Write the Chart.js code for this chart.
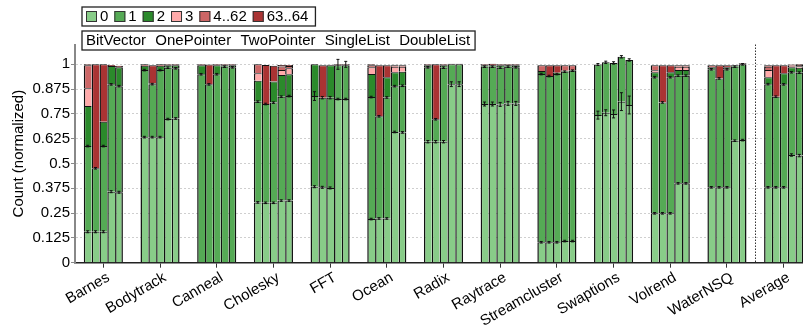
<!DOCTYPE html>
<html>
<head>
<meta charset="utf-8">
<script src="https://cdn.jsdelivr.net/npm/chart.js@4.4.1/dist/chart.umd.min.js"></script>
<style>
  html, body { margin: 0; padding: 0; background: #fff; overflow: hidden; }
  #wrap { width: 803px; height: 329px; overflow: hidden; }
</style>
</head>
<body>
<div id="wrap"><canvas id="countChart" width="812" height="329"></canvas></div>
<script>
const benchmarks = ["Barnes", "Bodytrack", "Canneal", "Cholesky", "FFT", "Ocean", "Radix",
  "Raytrace", "Streamcluster", "Swaptions", "Volrend", "WaterNSQ", "Average"];
const variants = ["BitVector", "OnePointer", "TwoPointer", "SingleList", "DoubleList"];
const bins = ["0", "1", "2", "3", "4..62", "63..64"];
const binColors = ["#88cc88", "#55aa55", "#2b8a2b", "#ffaaaa", "#cc6666", "#aa3333"];
const yTicks = [0, 0.125, 0.25, 0.375, 0.5, 0.625, 0.75, 0.875, 1];

// one row per benchmark, one column per variant (BitVector .. DoubleList)
const count0 = [
  [0.156, 0.156, 0.156, 0.358, 0.355],
  [0.633, 0.633, 0.633, 0.724, 0.727],
  [0, 0, 0, 0, 0],
  [0.304, 0.302, 0.302, 0.313, 0.313],
  [0.383, 0.380, 0.377, 0.825, 0.825],
  [0.220, 0.223, 0.223, 0.659, 0.657],
  [0.610, 0.610, 0.610, 0.900, 0.900],
  [0.800, 0.800, 0.798, 0.803, 0.803],
  [0.103, 0.103, 0.103, 0.109, 0.109],
  [0.744, 0.756, 0.750, 0.812, 0.795],
  [0.249, 0.249, 0.249, 0.400, 0.400],
  [0.380, 0.380, 0.380, 0.615, 0.618],
  [0.380, 0.380, 0.380, 0.543, 0.540],
];
const count1 = [
  [0.432, 0.320, 0.432, 0.541, 0.535],
  [0.338, 0.267, 0.338, 0.259, 0.253],
  [0.950, 0.899, 0.950, 0.988, 0.985],
  [0.508, 0.498, 0.505, 0.524, 0.527],
  [0.457, 0.452, 0.455, 0.170, 0.170],
  [0.615, 0.515, 0.610, 0.231, 0.235],
  [0.375, 0.113, 0.373, 0.100, 0.100],
  [0.188, 0.188, 0.185, 0.185, 0.182],
  [0.848, 0.838, 0.848, 0.854, 0.859],
  [0.255, 0.254, 0.257, 0.226, 0.227],
  [0.686, 0.559, 0.686, 0.543, 0.543],
  [0.595, 0.549, 0.595, 0.373, 0.382],
  [0.520, 0.457, 0.519, 0.417, 0.418],
];
const count2 = [
  [0.202, 0, 0.123, 0.092, 0.095],
  [0.022, 0.005, 0.022, 0.012, 0.015],
  [0.045, 0, 0.045, 0.007, 0.010],
  [0.105, 0, 0.107, 0.109, 0.110],
  [0.160, 0, 0.163, 0, 0],
  [0.116, 0, 0.102, 0.070, 0.071],
  [0.010, 0, 0.012, 0, 0],
  [0.007, 0.007, 0.012, 0.007, 0.010],
  [0.015, 0, 0.007, 0.005, 0.003],
  [0, 0, 0, 0, 0],
  [0.025, 0, 0.025, 0.028, 0.028],
  [0.010, 0, 0.010, 0.007, 0],
  [0.035, 0, 0.056, 0.025, 0.025],
];
const count3 = [
  [0.089, 0, 0, 0, 0],
  [0, 0, 0, 0, 0],
  [0, 0, 0, 0, 0],
  [0.038, 0, 0, 0.025, 0.030],
  [0, 0, 0, 0, 0],
  [0.034, 0, 0, 0.028, 0.025],
  [0, 0, 0, 0, 0],
  [0, 0, 0, 0, 0],
  [0, 0, 0, 0, 0],
  [0, 0, 0, 0, 0],
  [0.010, 0, 0, 0.017, 0.017],
  [0, 0, 0, 0, 0],
  [0.036, 0, 0, 0.008, 0.007],
];
const count4to62 = [
  [0.117, 0, 0, 0, 0],
  [0, 0, 0, 0, 0],
  [0, 0, 0, 0, 0],
  [0.045, 0, 0, 0.018, 0.012],
  [0, 0, 0, 0, 0],
  [0.010, 0, 0, 0.007, 0.007],
  [0, 0, 0, 0, 0],
  [0, 0, 0, 0, 0],
  [0.029, 0, 0, 0.027, 0.024],
  [0, 0, 0, 0, 0],
  [0.025, 0, 0, 0.007, 0.007],
  [0.010, 0, 0, 0, 0],
  [0.017, 0, 0, 0.005, 0.007],
];
const count63to64 = [
  [0.004, 0.524, 0.289, 0.006, 0.008],
  [0.007, 0.090, 0.007, 0.005, 0.005],
  [0.005, 0.100, 0.005, 0.005, 0.005],
  [0, 0.197, 0.079, 0.008, 0.005],
  [0, 0.163, 0.003, 0.005, 0.005],
  [0.005, 0.257, 0.060, 0.003, 0.003],
  [0.005, 0.277, 0.005, 0.003, 0.003],
  [0.005, 0.008, 0.005, 0.005, 0.005],
  [0, 0.054, 0.037, 0, 0],
  [0, 0, 0, 0, 0],
  [0, 0.187, 0.035, 0, 0],
  [0, 0.066, 0.010, 0, 0.005],
  [0.007, 0.158, 0.040, 0.002, 0.003],
];

// error half-widths at the top of bin 0, the top of bin 1 and the top of the stack
const err0 = [
  [0.005, 0.005, 0.005, 0.005, 0.005],
  [0.004, 0.004, 0.004, 0.004, 0.004],
  [0, 0, 0, 0, 0],
  [0.004, 0.004, 0.004, 0.004, 0.004],
  [0.005, 0.005, 0.005, 0.004, 0.004],
  [0.004, 0.004, 0.004, 0.004, 0.004],
  [0.006, 0.006, 0.006, 0.012, 0.012],
  [0.01, 0.01, 0.01, 0.01, 0.01],
  [0.004, 0.004, 0.004, 0.004, 0.004],
  [0.02, 0.015, 0.02, 0.045, 0.045],
  [0.004, 0.004, 0.004, 0.004, 0.004],
  [0.004, 0.004, 0.004, 0.004, 0.004],
  [0.004, 0.004, 0.004, 0.006, 0.006],
];
const err1 = [
  [0.004, 0.004, 0.004, 0.004, 0.004],
  [0.004, 0.004, 0.004, 0.004, 0.004],
  [0.004, 0.004, 0.004, 0.004, 0.004],
  [0.004, 0.004, 0.004, 0.004, 0.004],
  [0.022, 0.006, 0.006, 0, 0],
  [0.004, 0.004, 0.004, 0.004, 0.004],
  [0.004, 0.004, 0.004, 0, 0],
  [0.004, 0.004, 0.004, 0.004, 0.004],
  [0.004, 0.004, 0.004, 0.004, 0.004],
  [0, 0, 0, 0, 0],
  [0.004, 0.004, 0.004, 0.004, 0.004],
  [0.004, 0.004, 0.004, 0.004, 0.004],
  [0.004, 0.004, 0.004, 0.004, 0.004],
];
const errTotal = [
  [0, 0, 0, 0, 0],
  [0, 0, 0, 0, 0],
  [0, 0, 0, 0, 0],
  [0, 0, 0, 0, 0],
  [0, 0, 0, 0.025, 0.015],
  [0, 0, 0, 0, 0],
  [0, 0, 0, 0, 0],
  [0, 0, 0, 0, 0],
  [0, 0, 0, 0, 0],
  [0.005, 0.006, 0.006, 0.006, 0.006],
  [0, 0, 0, 0, 0],
  [0, 0, 0, 0, 0],
  [0, 0, 0, 0, 0],
];

const binData = [count0, count1, count2, count3, count4to62, count63to64];
const fontFamily = "'Liberation Sans', Arial, sans-serif";

Chart.defaults.font.family = fontFamily;
Chart.defaults.color = "#000";

const datasets = [];
variants.forEach((variant, v) => {
  bins.forEach((bin, b) => {
    datasets.push({
      label: bin,
      stack: variant,
      data: benchmarks.map((name, i) => binData[b][i][v] || null),
      backgroundColor: binColors[b],
      borderColor: "#111",
      borderWidth: { top: 1, left: 1.5, right: v === variants.length - 1 ? 1.5 : 0, bottom: 0 },
      borderSkipped: false,
      inflateAmount: 0,
      categoryPercentage: 0.69,
      barPercentage: 1.0,
    });
  });
});

// small I-beams at bin boundaries
const errorBars = {
  id: "errorBars",
  afterDatasetsDraw(chart) {
    const ctx = chart.ctx;
    const ys = chart.scales.y;
    ctx.save();
    ctx.strokeStyle = "#111";
    ctx.lineWidth = 1;
    variants.forEach((variant, v) => {
      const meta = chart.getDatasetMeta(v * bins.length + 1);
      benchmarks.forEach((name, i) => {
        const x = meta.data[i].x;
        const total = binData.reduce((s, arr) => s + arr[i][v], 0);
        const marks = [
          [count0[i][v], err0[i][v]],
          [count0[i][v] + count1[i][v], err1[i][v]],
          [total, errTotal[i][v]],
        ];
        marks.forEach(([val, e]) => {
          if (!e || !val) return;
          const y1 = ys.getPixelForValue(val - e);
          const y2 = ys.getPixelForValue(val + e);
          ctx.beginPath();
          ctx.moveTo(x, y1); ctx.lineTo(x, y2);
          ctx.moveTo(x - 1.5, y1); ctx.lineTo(x + 1.5, y1);
          ctx.moveTo(x - 1.5, y2); ctx.lineTo(x + 1.5, y2);
          ctx.stroke();
        });
      });
    });
    ctx.restore();
  },
};

// the two framed legends and the dotted separator before "Average"
const legendBoxes = {
  id: "legendBoxes",
  afterDraw(chart) {
    const ctx = chart.ctx;
    ctx.save();
    ctx.font = "15px " + fontFamily;
    ctx.textBaseline = "middle";

    let x = 86;
    bins.forEach((bin, b) => {
      ctx.fillStyle = binColors[b];
      ctx.fillRect(x, 11, 11, 11);
      ctx.strokeStyle = "#333";
      ctx.lineWidth = 1;
      ctx.strokeRect(x + 0.5, 11.5, 10, 10);
      ctx.fillStyle = "#000";
      ctx.fillText(bin, x + 14, 17);
      x += 14 + ctx.measureText(bin).width + 6;
    });
    ctx.strokeStyle = "#222";
    ctx.lineWidth = 1.3;
    ctx.strokeRect(82, 7, x + 1 - 82, 19);

    let x2 = 86;
    variants.forEach((name) => {
      ctx.fillText(name, x2, 41);
      x2 += ctx.measureText(name).width + 9.3;
    });
    ctx.strokeRect(82, 31, x2 - 9.3 + 5 - 82, 19);

    const area = chart.chartArea;
    const xs = chart.scales.x;
    const sx = Math.round((xs.getPixelForValue(benchmarks.length - 2) + xs.getPixelForValue(benchmarks.length - 1)) / 2) + 0.5;
    ctx.setLineDash([1.5, 1.5]);
    ctx.strokeStyle = "#333";
    ctx.lineWidth = 1;
    ctx.beginPath();
    ctx.moveTo(sx, area.top);
    ctx.lineTo(sx, area.bottom);
    ctx.stroke();
    ctx.restore();
  },
};

new Chart(document.getElementById("countChart"), {
  type: "bar",
  data: { labels: benchmarks, datasets: datasets },
  plugins: [errorBars, legendBoxes],
  options: {
    responsive: false,
    animation: false,
    layout: { padding: { top: 44.5, left: 0, right: 0, bottom: 0 } },
    plugins: {
      legend: { display: false },
      tooltip: { enabled: false },
    },
    scales: {
      x: {
        stacked: true,
        afterFit: (s) => { s.height = 66.3; },
        ticks: {
          autoSkip: false,
          minRotation: 30,
          maxRotation: 30,
          labelOffset: 5,
          font: { size: 15 },
          color: "#000",
          padding: 1,
        },
        grid: { offset: false, drawOnChartArea: false, tickLength: 5, tickColor: "#333" },
        border: { color: "#222", width: 1.5 },
      },
      y: {
        stacked: true,
        min: 0,
        max: 1.1,
        afterBuildTicks: (s) => { s.ticks = yTicks.map((v) => ({ value: v })); },
        afterFit: (s) => { s.width = 75; },
        ticks: {
          callback: (v) => String(v),
          font: { size: 15 },
          color: "#000",
          padding: 1,
        },
        grid: { color: "#cfcfcf", tickLength: 4, tickColor: "#888" },
        border: { color: "#888", width: 2, dash: [2, 2] },
        title: {
          display: true,
          text: "Count (normalized)",
          font: { size: 15 },
          color: "#000",
          padding: { top: 10, bottom: 0 },
        },
      },
    },
  },
});
</script>
</body>
</html>
